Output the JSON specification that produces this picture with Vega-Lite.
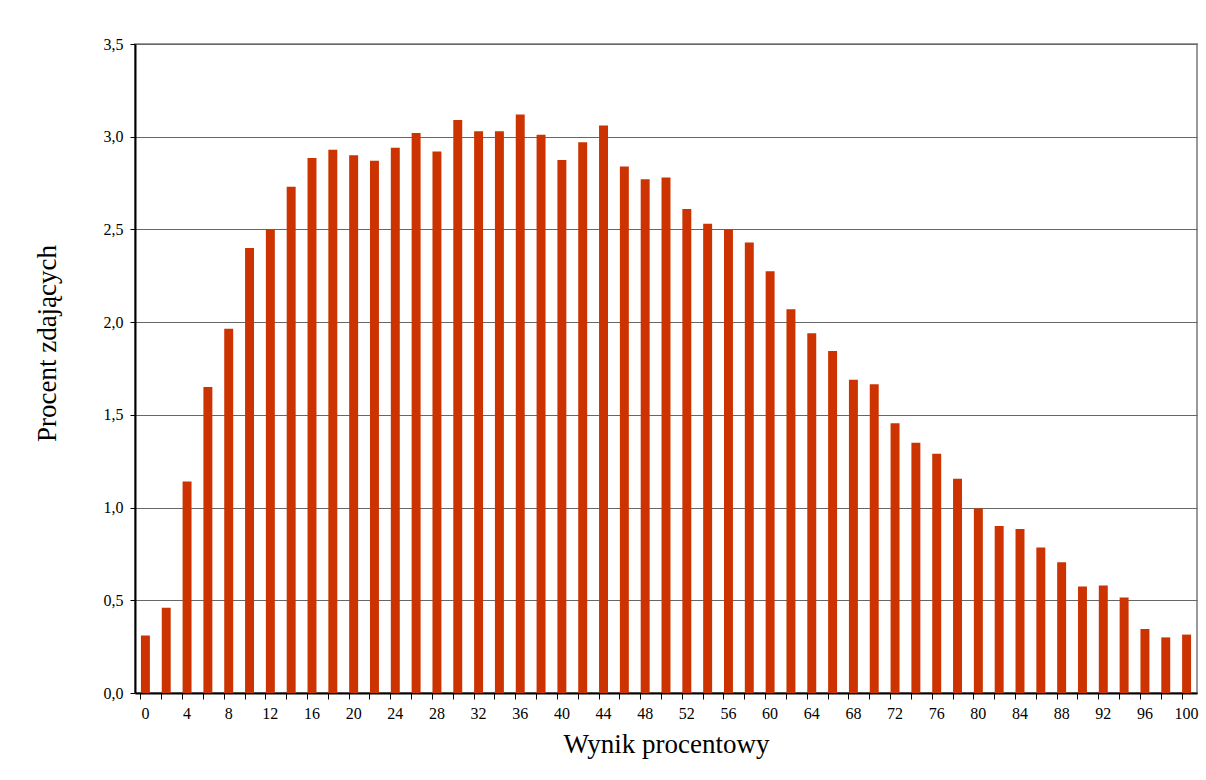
{
  "$schema": "https://vega.github.io/schema/vega-lite/v6.json",
  "width": 1062,
  "height": 649,
  "autosize": "none",
  "padding": {"left": 135, "top": 44, "right": 9, "bottom": 87},
  "background": "white",
  "config": {
    "font": "Liberation Serif",
    "view": {"stroke": "#9a9a9a", "strokeWidth": 2},
    "axis": {"labelFont": "Liberation Serif", "titleFont": "Liberation Serif", "labelColor": "#000", "titleColor": "#000", "titleFontWeight": "normal", "domainColor": "#000", "tickColor": "#000"}
  },
  "data": {
    "values": [
      {"wynik": 0, "procent": 0.31}, {"wynik": 2, "procent": 0.46}, {"wynik": 4, "procent": 1.14},
      {"wynik": 6, "procent": 1.65}, {"wynik": 8, "procent": 1.965}, {"wynik": 10, "procent": 2.4},
      {"wynik": 12, "procent": 2.5}, {"wynik": 14, "procent": 2.73}, {"wynik": 16, "procent": 2.885},
      {"wynik": 18, "procent": 2.93}, {"wynik": 20, "procent": 2.9}, {"wynik": 22, "procent": 2.87},
      {"wynik": 24, "procent": 2.94}, {"wynik": 26, "procent": 3.02}, {"wynik": 28, "procent": 2.92},
      {"wynik": 30, "procent": 3.09}, {"wynik": 32, "procent": 3.03}, {"wynik": 34, "procent": 3.03},
      {"wynik": 36, "procent": 3.12}, {"wynik": 38, "procent": 3.01}, {"wynik": 40, "procent": 2.875},
      {"wynik": 42, "procent": 2.97}, {"wynik": 44, "procent": 3.06}, {"wynik": 46, "procent": 2.84},
      {"wynik": 48, "procent": 2.77}, {"wynik": 50, "procent": 2.78}, {"wynik": 52, "procent": 2.61},
      {"wynik": 54, "procent": 2.53}, {"wynik": 56, "procent": 2.5}, {"wynik": 58, "procent": 2.43},
      {"wynik": 60, "procent": 2.275}, {"wynik": 62, "procent": 2.07}, {"wynik": 64, "procent": 1.94},
      {"wynik": 66, "procent": 1.845}, {"wynik": 68, "procent": 1.69}, {"wynik": 70, "procent": 1.665},
      {"wynik": 72, "procent": 1.455}, {"wynik": 74, "procent": 1.35}, {"wynik": 76, "procent": 1.29},
      {"wynik": 78, "procent": 1.155}, {"wynik": 80, "procent": 0.995}, {"wynik": 82, "procent": 0.9},
      {"wynik": 84, "procent": 0.885}, {"wynik": 86, "procent": 0.785}, {"wynik": 88, "procent": 0.705},
      {"wynik": 90, "procent": 0.575}, {"wynik": 92, "procent": 0.58}, {"wynik": 94, "procent": 0.515},
      {"wynik": 96, "procent": 0.345}, {"wynik": 98, "procent": 0.3}, {"wynik": 100, "procent": 0.315}
    ]
  },
  "mark": {"type": "bar", "color": "#CC3300"},
  "encoding": {
    "x": {
      "field": "wynik",
      "type": "ordinal",
      "sort": "ascending",
      "scale": {"paddingInner": 0.57, "paddingOuter": 0.285},
      "axis": {
        "title": "Wynik procentowy",
        "titleFontSize": 27,
        "titlePadding": 10,
        "labelAngle": 0,
        "labelFontSize": 16,
        "labelPadding": 6,
        "bandPosition": 0,
        "tickSize": 6,
        "domainWidth": 2,
        "labelExpr": "datum.value % 4 == 0 ? datum.value : ''",
        "grid": false
      }
    },
    "y": {
      "field": "procent",
      "type": "quantitative",
      "scale": {"domain": [0, 3.5]},
      "axis": {
        "title": "Procent zdających",
        "titleFontSize": 27,
        "titleX": -74,
        "titleY": 299,
        "values": [0, 0.5, 1, 1.5, 2, 2.5, 3, 3.5],
        "labelExpr": "replace(format(datum.value, '.1f'), '.', ',')",
        "labelFontSize": 16,
        "labelPadding": 7,
        "tickSize": 5,
        "domainWidth": 2,
        "grid": true,
        "gridColor": "#666",
        "gridWidth": 1
      }
    }
  }
}
